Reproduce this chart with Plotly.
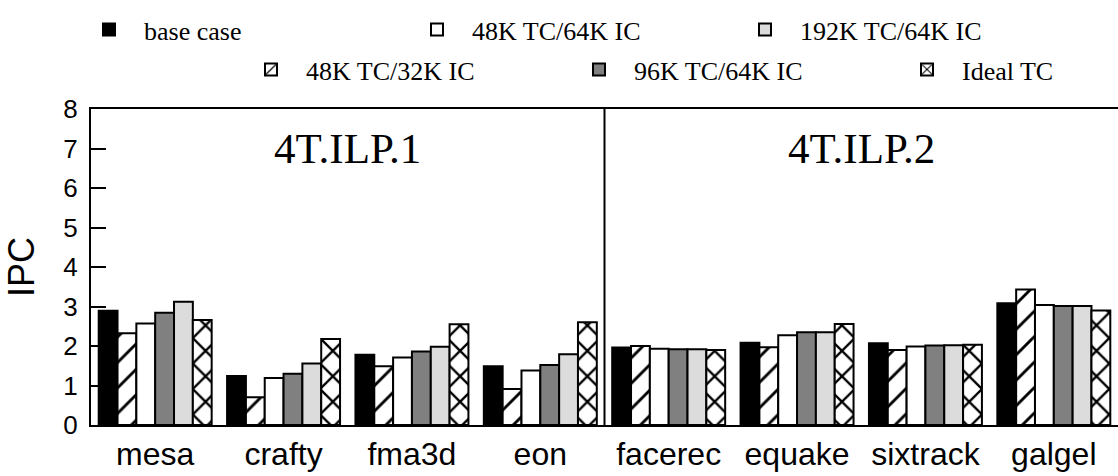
import plotly.graph_objects as go

categories = ["mesa", "crafty", "fma3d", "eon", "facerec", "equake", "sixtrack", "galgel"]

base_case = [2.89, 1.24, 1.78, 1.49, 1.96, 2.08, 2.07, 3.08]
tc48_ic32 = [2.32, 0.70, 1.49, 0.91, 2.00, 1.97, 1.90, 3.43]
tc48_ic64 = [2.57, 1.19, 1.71, 1.38, 1.93, 2.27, 1.99, 3.04]
tc96_ic64 = [2.84, 1.30, 1.86, 1.52, 1.92, 2.35, 2.01, 3.01]
tc192_ic64 = [3.12, 1.56, 1.98, 1.79, 1.92, 2.35, 2.02, 3.01]
ideal_tc = [2.66, 2.18, 2.55, 2.60, 1.90, 2.56, 2.03, 2.90]

series_names = ["base case", "48K TC/32K IC", "48K TC/64K IC",
                "96K TC/64K IC", "192K TC/64K IC", "Ideal TC"]
panel_titles = ["4T.ILP.1", "4T.ILP.2"]
y_ticks = [0, 1, 2, 3, 4, 5, 6, 7, 8]

series = [base_case, tc48_ic32, tc48_ic64, tc96_ic64, tc192_ic64, ideal_tc]
fills = ["#000000", "#ffffff", "#ffffff", "#808080", "#dcdcdc", "#ffffff"]
patterns = ["", "/", "", "", "", "x"]
solidities = [0, 0.16, 0, 0, 0, 0.24]
legend_ids = ["legend", "legend2", "legend", "legend2", "legend", "legend2"]

fig = go.Figure()
for name, vals, col, pat, sol, lg in zip(series_names, series, fills, patterns,
                                         solidities, legend_ids):
    marker = dict(color=col, line=dict(color="black", width=2))
    if pat:
        marker["pattern"] = dict(shape=pat, fgcolor="black", bgcolor="white",
                                 fgopacity=1, size=18, solidity=sol,
                                 fillmode="overlay")
    fig.add_trace(go.Bar(x=categories, y=vals, name=name, marker=marker, legend=lg))

serif = "Liberation Serif, Times New Roman, serif"
sans = "Liberation Sans, Arial, Helvetica, sans-serif"

legend_common = dict(orientation="h", xref="container", yref="container",
                     xanchor="left", yanchor="middle",
                     font=dict(family=serif, size=26, color="black"),
                     itemwidth=60, entrywidth=253, entrywidthmode="pixels",
                     bgcolor="rgba(0,0,0,0)", traceorder="normal")

fig.update_layout(
    width=1118, height=476,
    margin=dict(l=91, r=0, t=109, b=51, autoexpand=False),
    paper_bgcolor="white", plot_bgcolor="white",
    barmode="group", bargap=0.12, bargroupgap=0,
    showlegend=True,
    legend=dict(legend_common, x=74 / 1118, y=1 - 29.5 / 476),
    legend2=dict(legend_common, x=236 / 1118, y=1 - 69.5 / 476),
    xaxis=dict(type="category", range=[-0.5, 7.5], showline=True, linewidth=2,
               linecolor="black", mirror=True, ticks="", showgrid=False,
               tickfont=dict(family=sans, size=32, color="black")),
    yaxis=dict(range=[0, 8], tickvals=y_ticks, ticks="inside", ticklen=15, tickwidth=2,
               tickcolor="black", showline=True, linewidth=2, linecolor="black",
               showgrid=False, zeroline=False, ticklabelstandoff=6,
               tickfont=dict(family=sans, size=26, color="black"),
               title=dict(text="IPC", font=dict(family=sans, size=36, color="black"),
                          standoff=18)),
)

fig.add_shape(type="line", xref="x", yref="y", x0=3.5, x1=3.5, y0=0, y1=8,
              line=dict(color="black", width=2))

for i, t in enumerate(panel_titles):
    fig.add_annotation(x=1.5 + 4 * i, y=7, xref="x", yref="y", text=t, showarrow=False,
                       font=dict(family=serif, size=43, color="black"),
                       xanchor="center", yanchor="middle")

fig.write_html("out.html")
